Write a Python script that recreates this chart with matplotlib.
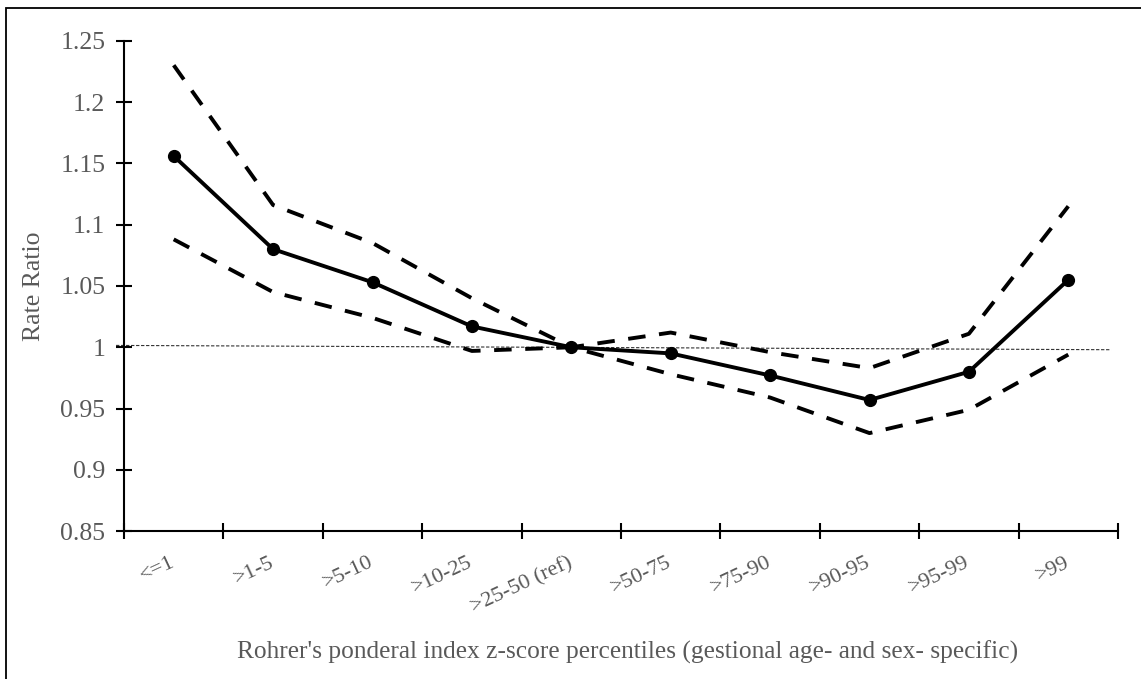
import matplotlib
matplotlib.use('AGG')
import numpy as np
import matplotlib.pyplot as plt
from matplotlib.patches import Rectangle

plt.rcParams['font.family'] = ['Liberation Serif', 'DejaVu Serif']

# categories and values
categories = ["<=1", ">1-5", ">5-10", ">10-25", ">25-50 (ref)",
              ">50-75", ">75-90", ">90-95", ">95-99", ">99"]
rate_ratio = [1.156, 1.080, 1.053, 1.017, 1.000, 0.995, 0.977, 0.957, 0.980, 1.055]
upper_ci = [1.230, 1.116, 1.085, 1.040, 1.000, 1.012, 0.996, 0.983, 1.011, 1.115]
lower_ci = [1.088, 1.045, 1.024, 0.997, 1.000, 0.978, 0.959, 0.930, 0.949, 0.994]
ref_x = [-0.58, 9.43]
ref_y = [1.0015, 0.998]
yticks = [0.85, 0.9, 0.95, 1.0, 1.05, 1.1, 1.15, 1.2, 1.25]
ytick_labels = ["0.85", "0.9", "0.95", "1", "1.05", "1.1", "1.15", "1.2", "1.25"]

W, H = 1141, 679
fig = plt.figure(figsize=(W/100, H/100), dpi=100)
ax = fig.add_axes([124/W, 1-531.2/H, (1118-124)/W, (531.2-40.7)/H])

gray = '#595959'
x = np.arange(len(categories))

ax.plot(ref_x, ref_y, color='#333333', lw=0.8, ls=(0, (3, 1.5)), zorder=1,
        clip_on=False)
ax.plot(x, upper_ci, color='black', lw=2.8, ls=(0, (4.5, 3.5)), zorder=2)
ax.plot(x, lower_ci, color='black', lw=2.8, ls=(0, (4.5, 3.5)), zorder=2)
ax.plot(x, rate_ratio, color='black', lw=2.8, marker='o', markersize=8.5, zorder=3)

ax.set_xlim(-0.5, 9.5)
ax.set_ylim(0.85, 1.25)

for s in ['top', 'right']:
    ax.spines[s].set_visible(False)
for s in ['left', 'bottom']:
    ax.spines[s].set_linewidth(1.5)
    ax.spines[s].set_color('black')

ax.set_yticks(yticks)
ax.set_yticklabels(ytick_labels)
ax.tick_params(axis='y', direction='inout', length=11, width=1.5,
               labelsize=18.5, labelcolor=gray, pad=8)

ax.set_xticks(np.arange(-0.5, 10, 1))
ax.set_xticklabels([])
ax.tick_params(axis='x', which='major', direction='inout', length=11, width=1.5)
ax.set_xticks(x, minor=True)
ax.set_xticklabels(categories, minor=True, rotation=25, ha='right',
                   va='center', rotation_mode='anchor')
ax.tick_params(axis='x', which='minor', length=0, pad=22, labelsize=16,
               labelcolor=gray)

ax.set_ylabel("Rate Ratio", fontsize=18.5, color=gray)
ax.yaxis.set_label_coords(-(124-34)/(1118-124), 0.5)
ax.yaxis.label.set_va('center')

fig.text(628/W, 1-652/H,
         "Rohrer's ponderal index z-score percentiles (gestional age- and sex- specific)",
         ha='center', va='center', fontsize=18.3, color=gray)

# chart area border (right and bottom fall outside the image)
fig.patches.append(Rectangle((6/W, -0.1), 1.2, 1-8/H+0.1, transform=fig.transFigure,
                             fill=False, edgecolor='black', lw=1.3))

fig.savefig("out.png", dpi=100)
